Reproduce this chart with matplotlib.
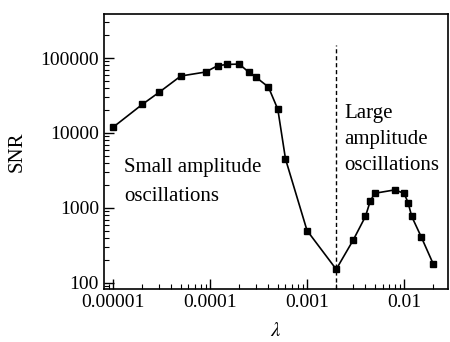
import matplotlib
matplotlib.use("Agg")
import matplotlib.pyplot as plt
from matplotlib.ticker import LogLocator, FixedLocator, FixedFormatter, NullFormatter

plt.rcParams['font.family'] = ['Liberation Serif', 'DejaVu Serif']
plt.rcParams['mathtext.fontset'] = 'stix'

lam = [1e-5, 2e-5, 3e-5, 5e-5, 9e-5, 1.2e-4, 1.5e-4, 2e-4, 2.5e-4, 3e-4, 4e-4, 5e-4, 6e-4,
       1e-3, 2e-3, 3e-3, 4e-3, 4.5e-3, 5e-3, 8e-3, 1e-2, 1.1e-2, 1.2e-2, 1.5e-2, 2e-2]
snr = [11900, 24000, 35000, 57500, 65000, 79000, 82000, 83000, 65000, 55000, 41000, 20700, 4500,
       500, 152, 375, 770, 1250, 1570, 1740, 1570, 1180, 770, 414, 179]

xticks = [1e-5, 1e-4, 1e-3, 1e-2]
xticklabels = ["0.00001", "0.0001", "0.001", "0.01"]
yticks = [100, 1000, 10000, 100000]
yticklabels = ["100", "1000", "10000", "100000"]
boundary = 2e-3

fig = plt.figure(figsize=(4.5, 3.42), dpi=100)
ax = fig.add_axes([0.231, 0.155, 0.7646, 0.804])
ax.plot(lam, snr, color='black', lw=1.2, marker='s', ms=4, mfc='black', mec='black')
ax.set_xscale('log')
ax.set_yscale('log')
ax.set_xlim(8.07e-6, 0.0284)
ax.set_ylim(83, 386000)
ax.axvline(boundary, ymin=0, ymax=0.887, color='black', lw=1.0, ls=(0, (3, 2)))

ax.xaxis.set_major_locator(FixedLocator(xticks))
ax.xaxis.set_major_formatter(FixedFormatter(xticklabels))
ax.xaxis.set_minor_locator(LogLocator(base=10, subs=range(2, 10)))
ax.xaxis.set_minor_formatter(NullFormatter())
ax.yaxis.set_major_locator(FixedLocator(yticks))
ax.yaxis.set_major_formatter(FixedFormatter(yticklabels))
ax.yaxis.set_minor_locator(LogLocator(base=10, subs=range(2, 10)))
ax.yaxis.set_minor_formatter(NullFormatter())

ax.tick_params(which='both', direction='in', top=False, right=False, labelsize=14)
ax.tick_params(which='major', length=7, width=1.0)
ax.tick_params(which='minor', length=3.5, width=0.8)
for s in ax.spines.values():
    s.set_linewidth(1.2)

ax.text(1.3e-5, 2220, "Small amplitude\noscillations", fontsize=15, ha='left', va='center',
        linespacing=1.65)
ax.text(2.4e-3, 8070, "Large\namplitude\noscillations", fontsize=15, ha='left', va='center',
        linespacing=1.5)

ax.set_ylabel("SNR", fontsize=15)
ax.yaxis.set_label_coords(-0.225, 0.5)
ax.set_xlabel(r"$\lambda$", fontsize=15, labelpad=8)

fig.savefig("out.png", dpi=100)
